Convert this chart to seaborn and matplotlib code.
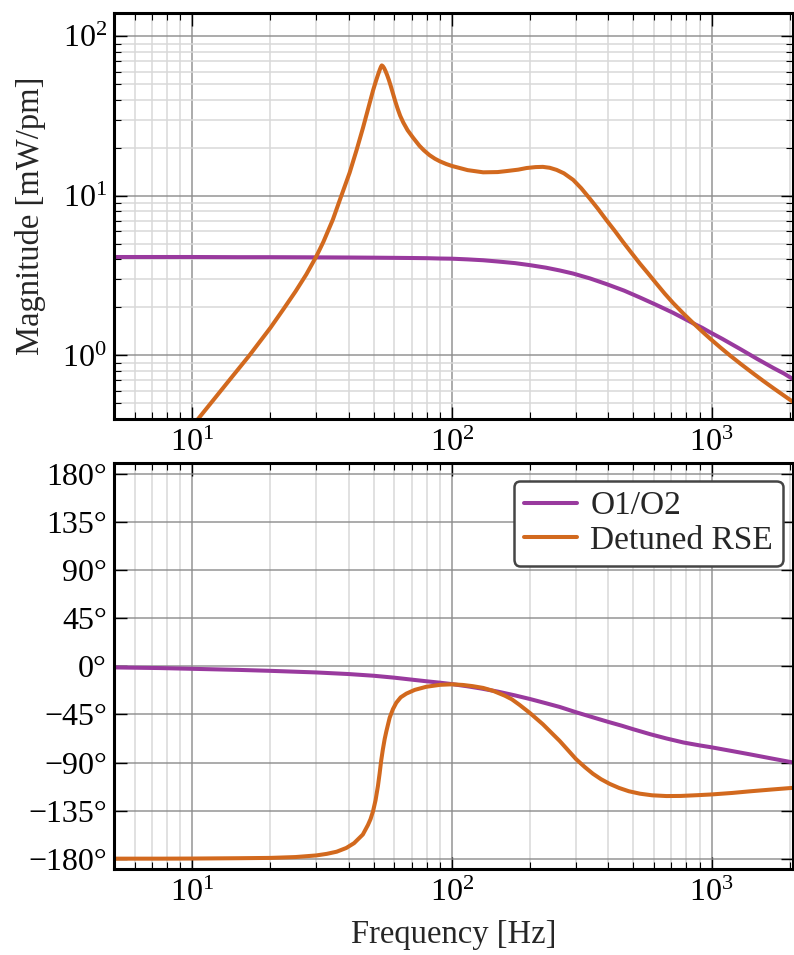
import numpy as np
import pandas as pd
import matplotlib
matplotlib.use("Agg")
import matplotlib.pyplot as plt
import matplotlib.ticker as mticker
import seaborn as sns

# ---- O1/O2 (tuned) response ----
freq_o1_mag = [5, 7, 10, 15, 20, 30, 40, 50, 60, 70, 80, 90, 100, 115, 132, 150, 175,
               200, 230, 260, 293, 340, 394, 460, 529, 610, 711, 780, 849, 920, 984,
               1100, 1285, 1500, 1726, 1900, 2060]
mag_o1 = [4.14, 4.14, 4.14, 4.13, 4.13, 4.12, 4.11, 4.10, 4.09, 4.08, 4.07, 4.05,
          4.04, 4.00, 3.95, 3.88, 3.79, 3.68, 3.55, 3.41, 3.26, 3.04, 2.80, 2.55,
          2.31, 2.08, 1.85, 1.71, 1.59, 1.49, 1.40, 1.27, 1.10, 0.95, 0.836, 0.77,
          0.71]

freq_o1_ph = [5, 7.5, 10, 15, 20, 30, 40, 50, 60, 71, 80, 90, 100, 115, 130, 150,
              175, 200, 230, 260, 301, 350, 400, 450, 498, 580, 670, 780, 900, 1000,
              1200, 1400, 1700, 2060]
phase_o1 = [-1.0, -1.6, -2.3, -3.3, -4.2, -5.7, -7.2, -8.8, -10.6, -12.6, -14.0,
            -15.3, -16.6, -18.7, -20.8, -23.6, -27.2, -30.6, -34.5, -38.0, -43.0,
            -47.8, -52.0, -55.5, -58.8, -63.5, -67.5, -71.3, -74.0, -75.8, -79.3,
            -82.3, -86.2, -90.0]

# ---- Detuned RSE response ----
freq_rse_mag = [5, 8, 10, 12, 14, 16.6, 20, 22.5, 25, 27.5, 30, 32, 34.8, 37, 40.4,
                43, 45.4, 47.5, 49.7, 51, 52, 52.8, 53.3, 53.7, 54.2, 54.8, 55.5, 56.3,
                57.2, 58.2, 59.3, 60.5, 61.8, 63.2, 65, 67.5, 70.8, 75, 78, 82, 86, 90,
                95, 100, 115, 132, 150, 162, 180, 194, 210, 224, 238, 253, 270, 293,
                315, 339, 365, 394, 425, 456, 490, 529, 570, 613, 660, 711, 780, 849,
                920, 984, 1080, 1175, 1300, 1445, 1580, 1726, 1900, 2060]
mag_rse = [0.09, 0.23, 0.36, 0.52, 0.71, 1.0, 1.49, 1.96, 2.52, 3.22, 4.15, 5.15, 7.1,
           9.4, 14.0, 19.5, 26.5, 34.8, 45.8, 52.5, 57.8, 62.0, 64.4, 65.7, 65.0,
           63.3, 60.6, 57.2, 53.2, 48.6, 43.8, 39.2, 35.2, 31.8, 28.8, 25.8, 23.2,
           20.6, 19.3, 18.0, 17.1, 16.45, 15.85, 15.4, 14.5, 14.05, 14.1, 14.3, 14.6,
           14.95, 15.15, 15.2, 15.0, 14.55, 13.85, 12.6, 11.15, 9.65, 8.3, 7.03, 6.0,
           5.14, 4.42, 3.77, 3.26, 2.82, 2.44, 2.13, 1.825, 1.597, 1.413, 1.28,
           1.123, 1.002, 0.88, 0.772, 0.693, 0.625, 0.56, 0.511]

freq_rse_ph = [5, 7.5, 10, 15, 20, 25, 30, 33, 36, 39.2, 42, 45.4, 47.5, 48.6, 49.7,
               50.8, 51.9, 52.7, 53.4, 54.2, 55.1, 55.9, 57.6, 59.3, 61.1, 63.5, 66.8,
               72, 79.7, 90, 100, 110, 120, 132, 144, 160, 170, 182, 200, 224, 245,
               260, 280, 301, 325, 349, 375, 405, 440, 480, 530, 590, 670, 760, 880,
               1000, 1200, 1400, 1700, 2060]
phase_rse = [-180.0, -180.0, -179.9, -179.6, -179.3, -178.5, -177.0, -175.5, -173.5,
             -170.0, -165.5, -157.4, -148.5, -143.0, -135.6, -125.5, -112.0, -100.0,
             -88.5, -78.0, -68.0, -61.0, -48.0, -40.0, -34.0, -29.0, -25.5, -22.0,
             -19.1, -17.3, -16.8, -17.4, -18.5, -20.2, -22.9, -27.5, -30.8, -36.0,
             -43.8, -54.2, -63.6, -69.8, -78.5, -87.0, -94.3, -100.5, -105.6, -110.0,
             -113.8, -116.9, -119.2, -120.7, -121.4, -121.3, -120.6, -119.9, -118.5,
             -117.0, -115.3, -113.7]

labels = ["O1/O2", "Detuned RSE"]
colors = ["#993a9e", "#d2691e"]
phase_ticks = [180, 135, 90, 45, 0, -45, -90, -135, -180]
freq_ticks = [10, 100, 1000]
mag_ticks = [1, 10, 100]

mag_df = pd.concat([
    pd.DataFrame({"freq": freq_o1_mag, "value": mag_o1, "model": labels[0]}),
    pd.DataFrame({"freq": freq_rse_mag, "value": mag_rse, "model": labels[1]}),
])
phase_df = pd.concat([
    pd.DataFrame({"freq": freq_o1_ph, "value": phase_o1, "model": labels[0]}),
    pd.DataFrame({"freq": freq_rse_ph, "value": phase_rse, "model": labels[1]}),
])

FS = 23

sns.set_theme(style="ticks")
plt.rcParams.update({
    "font.family": ["Liberation Serif", "DejaVu Serif"],
    "mathtext.fontset": "stix",
    "font.size": FS,
    "axes.linewidth": 2.2,
    "xtick.direction": "in",
    "ytick.direction": "in",
    "xtick.top": True,
    "ytick.right": True,
    "xtick.major.size": 9,
    "ytick.major.size": 9,
    "xtick.minor.size": 5,
    "ytick.minor.size": 5,
    "xtick.major.width": 1.0,
    "ytick.major.width": 1.0,
    "xtick.minor.width": 0.8,
    "ytick.minor.width": 0.8,
    "xtick.major.pad": 7,
    "ytick.major.pad": 5,
    "xtick.color": "black",
    "ytick.color": "black",
    "axes.edgecolor": "black",
    "lines.solid_joinstyle": "round",
    "lines.solid_capstyle": "round",
})

fig = plt.figure(figsize=(7.94, 9.55), dpi=100)
ax_mag = fig.add_axes([0.1436, 0.5613, 0.8553, 0.4251])
ax_ph = fig.add_axes([0.1436, 0.0897, 0.8553, 0.4251])

palette = dict(zip(labels, colors))
sns.lineplot(data=mag_df, x="freq", y="value", hue="model", palette=palette, sort=False,
             estimator=None, linewidth=2.9, ax=ax_mag, legend=False)
sns.lineplot(data=phase_df, x="freq", y="value", hue="model", palette=palette, sort=False,
             estimator=None, linewidth=2.9, ax=ax_ph)

for ax in (ax_mag, ax_ph):
    ax.set_xscale("log")
    ax.set_xlim(5, 2060)
    ax.xaxis.set_major_locator(mticker.FixedLocator(freq_ticks))
    ax.xaxis.set_major_formatter(mticker.LogFormatterSciNotation())
    ax.xaxis.set_minor_locator(mticker.LogLocator(base=10, subs=np.arange(2, 10), numticks=20))
    ax.xaxis.set_minor_formatter(mticker.NullFormatter())
    ax.grid(True, which="major", axis="both", color="#8c8c8c", linewidth=1.2, alpha=0.85)
    ax.grid(True, which="minor", axis="x", color="#d8d8d8", linewidth=1.1)
    ax.set_ylabel("")
    ax.set_xlabel("")
    ax.tick_params(axis="both", which="both", labelsize=FS)
    for s in ax.spines.values():
        s.set_linewidth(2.2)
    ax.set_axisbelow(True)

# Magnitude panel
ax_mag.set_yscale("log")
ax_mag.set_ylim(0.4, 140)
ax_mag.yaxis.set_major_locator(mticker.FixedLocator(mag_ticks))
ax_mag.yaxis.set_major_formatter(mticker.LogFormatterSciNotation())
ax_mag.yaxis.set_minor_locator(mticker.LogLocator(base=10, subs=np.arange(2, 10), numticks=20))
ax_mag.yaxis.set_minor_formatter(mticker.NullFormatter())
ax_mag.grid(True, which="minor", axis="y", color="#d8d8d8", linewidth=1.1)
ax_mag.set_ylabel("Magnitude [mW/pm]", fontsize=FS + 0.5, labelpad=12)

# Phase panel
ax_ph.set_ylim(-190, 190)
ax_ph.yaxis.set_major_locator(mticker.FixedLocator(phase_ticks))
ax_ph.yaxis.set_major_formatter(
    mticker.FuncFormatter(lambda v, p: f"{int(round(v))}°".replace("-", "\u2212")))
ax_ph.yaxis.set_minor_locator(mticker.NullLocator())
ax_ph.set_xlabel("Frequency [Hz]", fontsize=FS + 0.5, labelpad=8)

leg = ax_ph.legend(loc="upper right", fontsize=FS + 1, frameon=True, fancybox=True,
                   framealpha=1.0, edgecolor="#454545", handlelength=1.6,
                   borderpad=0.3, labelspacing=0.12, handletextpad=0.4,
                   borderaxespad=0.0, bbox_to_anchor=(0.985, 0.957))
leg.get_frame().set_linewidth(1.8)
for line in leg.get_lines():
    line.set_linewidth(2.9)

fig.savefig("out.png", dpi=100)
